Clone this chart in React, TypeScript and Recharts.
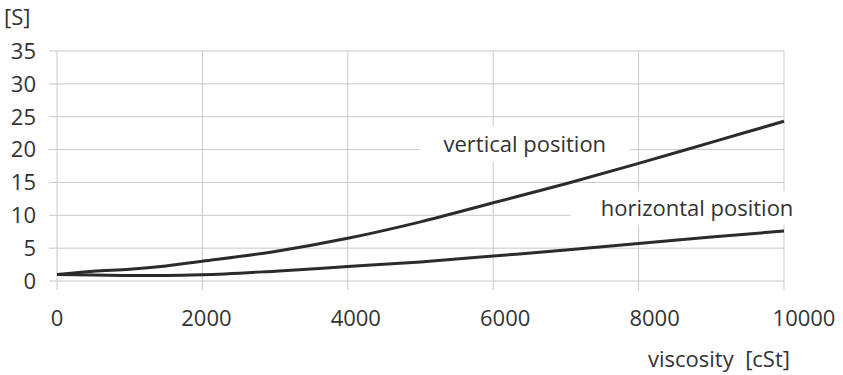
import { CartesianGrid, Line, LineChart, ReferenceArea, XAxis, YAxis } from "recharts";

// viscosity [cSt]
const viscosity = [0, 500, 1000, 1500, 2000, 3000, 4000, 5000, 6000, 7000, 8000, 9000, 10000];
// time [S] per mounting position
const verticalTime = [1.0, 1.5, 1.8, 2.3, 3.0, 4.5, 6.5, 9.0, 11.9, 14.8, 17.9, 21.1, 24.3];
const horizontalTime = [1.0, 0.9, 0.85, 0.85, 0.95, 1.5, 2.2, 2.9, 3.8, 4.7, 5.7, 6.7, 7.6];

const xTicks = [0, 2000, 4000, 6000, 8000, 10000];
const yTicks = [0, 5, 10, 15, 20, 25, 30, 35];

const font = "'Open Sans', 'Noto Sans', sans-serif";
const ink = "#333333";
const curve = "#2b2b2b";
const grid = "#c9c9c9";

const data = viscosity.map((v, i) => ({
  v,
  vertical: verticalTime[i],
  horizontal: horizontalTime[i],
}));

function XTick({ x, y, payload }: { x?: number; y?: number; payload?: { value: number } }) {
  const value = payload?.value ?? 0;
  // labels in the original sit a little right of their grid lines, more so further right
  const drift = (value / 10000) * 20;
  return (
    <text x={(x ?? 0) + drift} y={y} dy="0.75em" textAnchor="middle" fill={ink} fontSize={22} fontFamily={font}>
      {value}
    </text>
  );
}

export default function App() {
  return (
    <div style={{ position: "absolute", left: 0, top: 0, width: 843, height: 375, background: "#fff", fontFamily: font }}>
      <div style={{ position: "absolute", left: 4, top: 5, fontSize: 22, lineHeight: "22px", color: ink }}>[S]</div>
      <div style={{ position: "absolute", left: 648, top: 347, fontSize: 22, lineHeight: "22px", color: ink, whiteSpace: "pre" }}>
        viscosity  [cSt]
      </div>
      <LineChart width={843} height={375} data={data} margin={{ top: 51, right: 59, bottom: 54, left: 0 }}>
        <CartesianGrid stroke={grid} strokeWidth={1} />
        <XAxis
          type="number"
          dataKey="v"
          domain={[0, 10000]}
          ticks={xTicks}
          height={40}
          axisLine={false}
          tickSize={9}
          tickMargin={19}
          tickLine={{ stroke: grid }}
          tick={<XTick />}
        />
        <YAxis
          type="number"
          domain={[0, 35]}
          ticks={yTicks}
          width={57}
          axisLine={false}
          tickSize={8}
          tickMargin={13}
          tickLine={{ stroke: grid }}
          tick={{ fill: ink, fontSize: 22, fontFamily: font }}
        />
        <ReferenceArea
          x1={4990}
          x2={7880}
          y1={18.1}
          y2={23.6}
          fill="#fff"
          fillOpacity={1}
          stroke="none"
          ifOverflow="visible"
          label={{ value: "vertical position", position: "center", fill: ink, fontSize: 22, fontFamily: font }}
        />
        <ReferenceArea
          x1={7060}
          x2={10550}
          y1={8.5}
          y2={13.7}
          fill="#fff"
          fillOpacity={1}
          stroke="none"
          ifOverflow="visible"
          label={{ value: "horizontal position", position: "center", fill: ink, fontSize: 22, fontFamily: font }}
        />
        <Line type="monotone" dataKey="vertical" stroke={curve} strokeWidth={3} dot={false} isAnimationActive={false} />
        <Line type="monotone" dataKey="horizontal" stroke={curve} strokeWidth={3} dot={false} isAnimationActive={false} />
      </LineChart>
    </div>
  );
}
